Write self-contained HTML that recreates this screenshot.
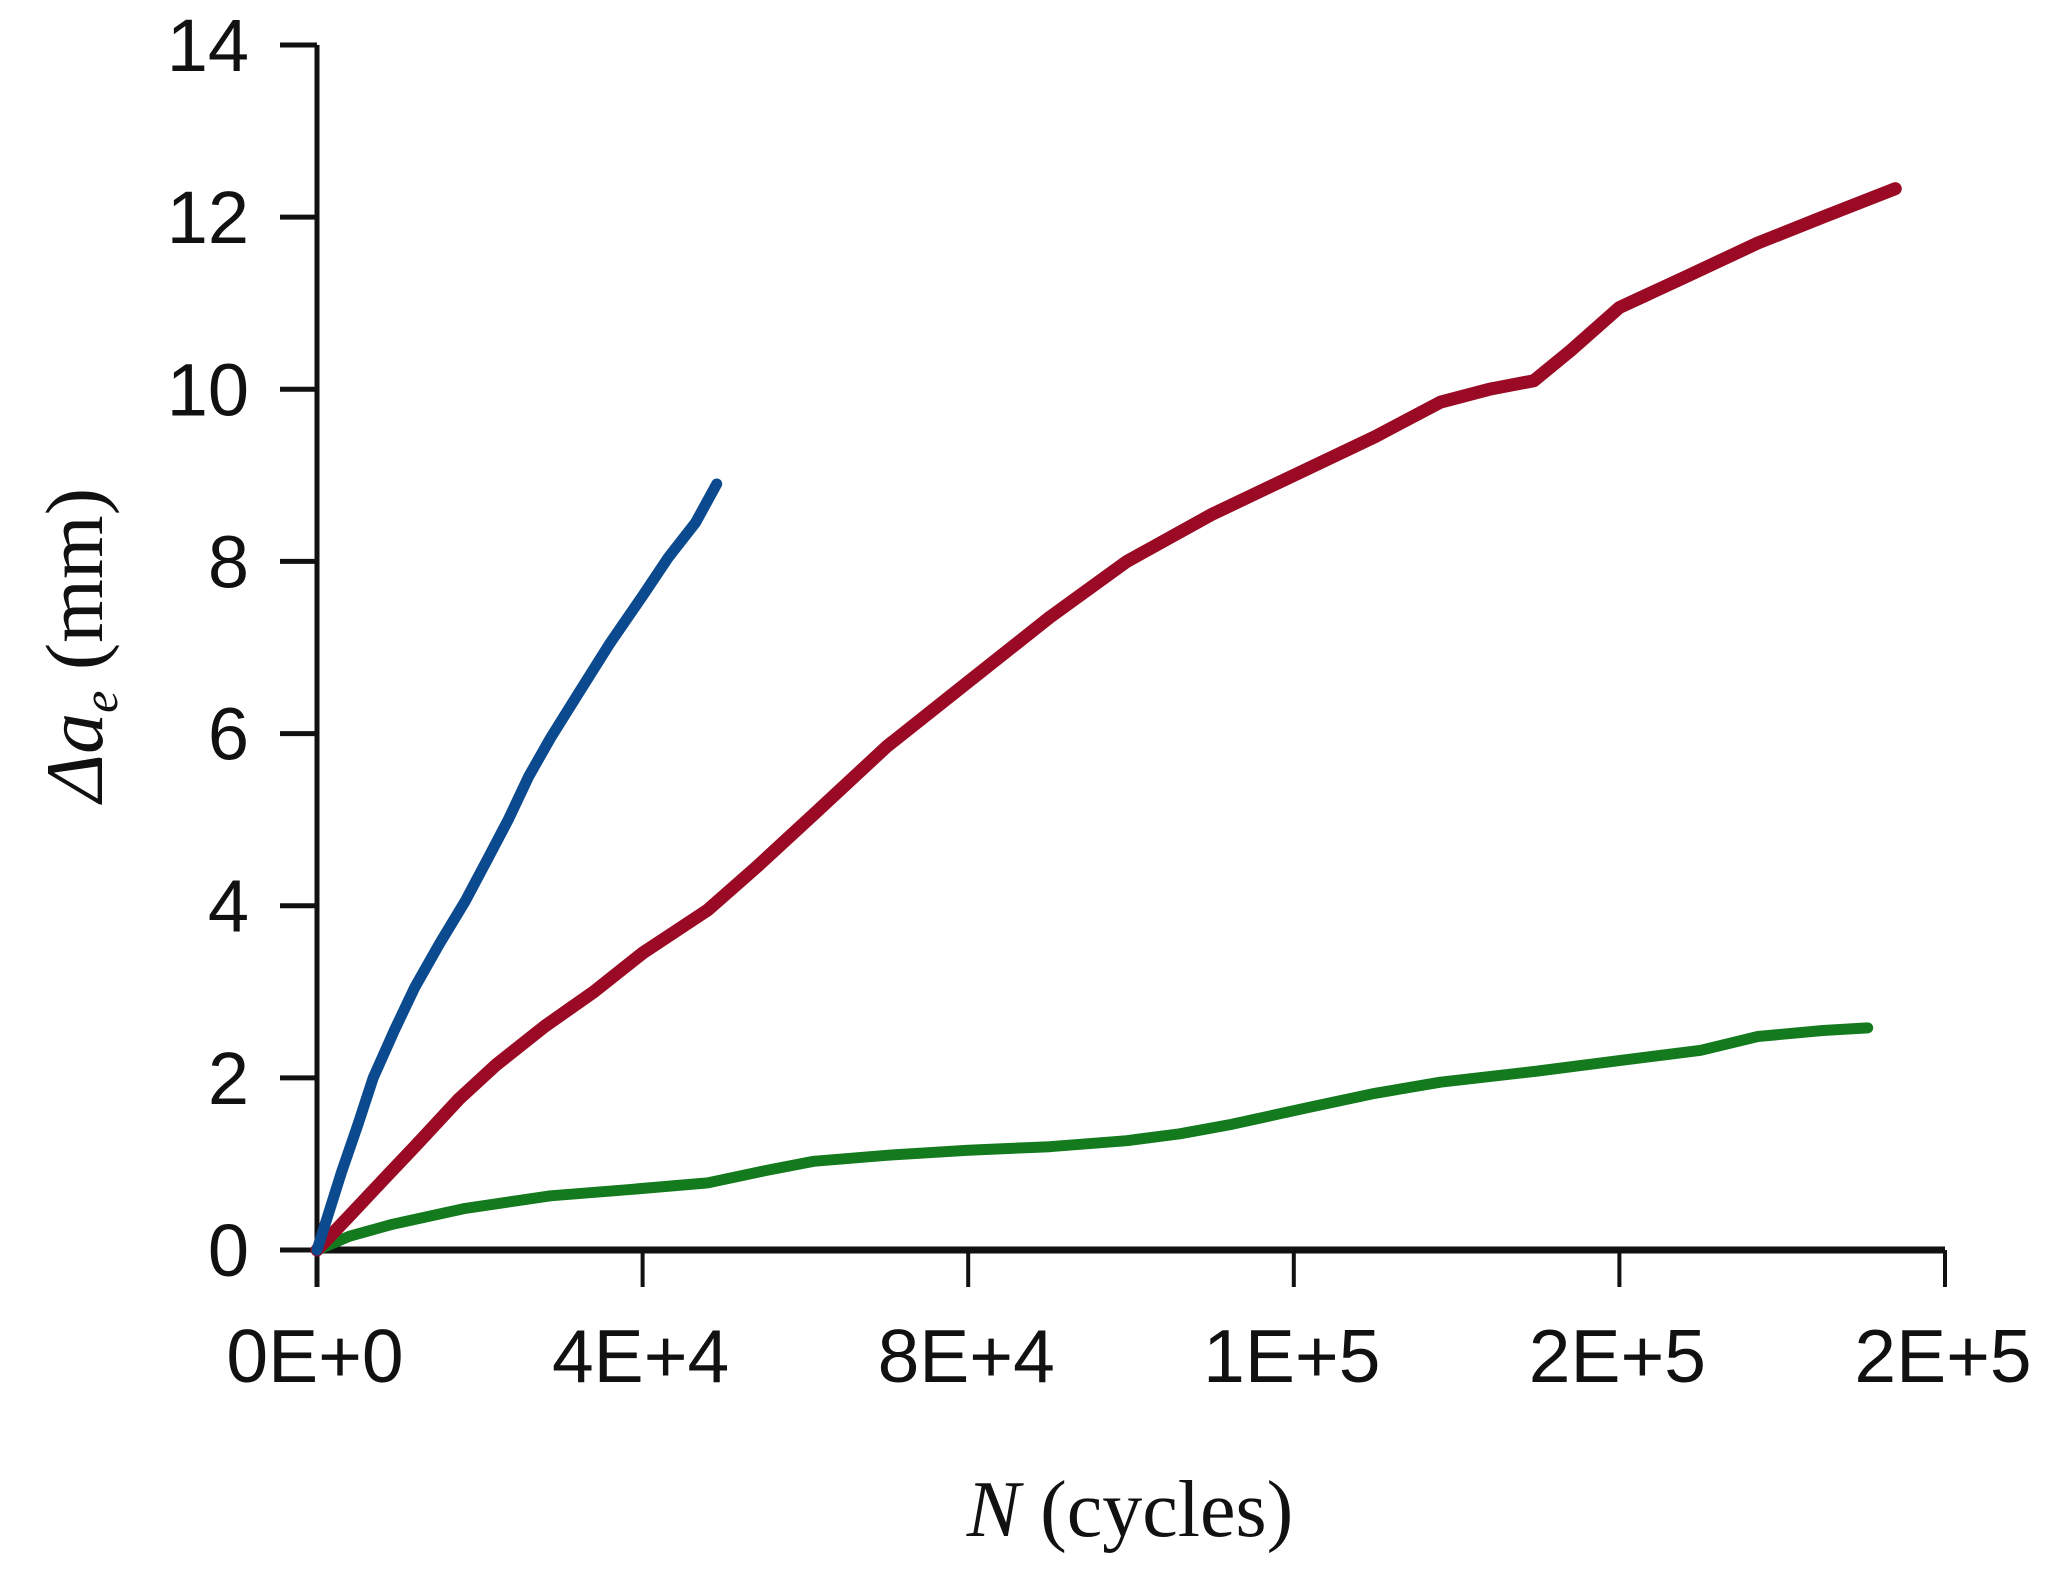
<!DOCTYPE html>
<html><head><meta charset="utf-8"><style>
html,body{margin:0;padding:0;background:#fff}
svg{display:block}
</style></head><body>
<svg id="chart" width="2055" height="1582" viewBox="0 0 2055 1582" xmlns="http://www.w3.org/2000/svg">
<g id="axes"></g>
<g id="series"></g>
<text transform="translate(102,645) rotate(-90)" text-anchor="middle" font-family="Liberation Serif, serif" font-size="82" fill="#111"><tspan font-style="italic">Δa</tspan><tspan font-style="italic" font-size="50" dy="15">e</tspan><tspan dy="-15"> (mm)</tspan></text>
<text x="1130" y="1536" text-anchor="middle" font-family="Liberation Serif, serif" font-size="80" fill="#111"><tspan font-style="italic">N</tspan> (cycles)</text>
</svg>
<script>
const yTicks = [0, 2, 4, 6, 8, 10, 12, 14];
const xTicks = [0, 40000, 80000, 120000, 160000, 200000];
const xTickLabels = ["0E+0", "4E+4", "8E+4", "1E+5", "2E+5", "2E+5"];
const blueN = [0, 1500, 3000, 5000, 6900, 9500, 12000, 15000, 18200, 21000, 23500, 26000, 28700, 32000, 36000, 40000, 43200, 46500, 49100];
const blueA = [0, 0.45, 0.9, 1.45, 2.0, 2.55, 3.05, 3.55, 4.05, 4.55, 5.0, 5.5, 5.95, 6.45, 7.05, 7.6, 8.05, 8.45, 8.9];
const redN = [0, 4000, 8000, 12000, 17400, 22000, 28000, 34000, 40000, 44000, 48000, 54000, 60900, 70000, 80000, 90000, 99500, 110000, 120000, 130000, 138000, 144000, 149500, 154000, 160000, 168000, 177000, 185000, 193900];
const redA = [0, 0.4, 0.8, 1.2, 1.75, 2.15, 2.6, 3.0, 3.45, 3.7, 3.95, 4.45, 5.05, 5.85, 6.6, 7.35, 8.0, 8.55, 9.0, 9.45, 9.85, 10.0, 10.1, 10.45, 10.95, 11.3, 11.7, 12.0, 12.33];
const greenN = [0, 4000, 9300, 18000, 28700, 38000, 48000, 55000, 61000, 70000, 80000, 90000, 99500, 106000, 112400, 122000, 130000, 138000, 150000, 160000, 170000, 177000, 185000, 190500];
const greenA = [0, 0.16, 0.3, 0.48, 0.63, 0.7, 0.78, 0.92, 1.03, 1.1, 1.16, 1.2, 1.27, 1.35, 1.46, 1.66, 1.82, 1.95, 2.08, 2.2, 2.32, 2.48, 2.55, 2.58];

const X0 = 317, X1 = 1945, Y0 = 1250, Y1 = 45;
function xs(v){ return X0 + (v - 0) / 200000 * (X1 - X0); }
function ys(v){ return Y0 - v / 14 * (Y0 - Y1); }
const NS = "http://www.w3.org/2000/svg";
const axes = document.getElementById('axes');
const series = document.getElementById('series');
function mk(tag, attrs, parent){ const e = document.createElementNS(NS, tag); for (const k in attrs) e.setAttribute(k, attrs[k]); parent.appendChild(e); return e; }

const yl = mk('line', {x1:X0, y1:ys(14), x2:X0, y2:Y0+37, stroke:'#111', 'stroke-width':5}, axes);


const xl = mk('line', {x1:X0, y1:Y0, x2:X1, y2:Y0, stroke:'#111', 'stroke-width':7}, axes);



yTicks.forEach(function(t){
  const tk = mk('line', {x1:X0-37, y1:ys(t), x2:X0, y2:ys(t), stroke:'#111', 'stroke-width':5}, axes);
  
  
  const lb = mk('text', {x:249, y:ys(t)+26, 'text-anchor':'end', 'font-family':'Liberation Sans, sans-serif', 'font-size':74, fill:'#111'}, axes);
  lb.textContent = t;
  
  
});
xTicks.forEach(function(t, i){
  const tk = mk('line', {x1:xs(t), y1:Y0, x2:xs(t), y2:Y0+37, stroke:'#111', 'stroke-width':4}, axes);
  
  
  const lb = mk('text', {x:xs(t)-2, y:1382, 'text-anchor':'middle', 'font-family':'Liberation Sans, sans-serif', 'font-size':75, fill:'#111'}, axes);
  lb.textContent = xTickLabels[i];
  
  
});

function drawSeries(nArr, aArr, color, w, name){
  const pts = nArr.map(function(n, i){ return xs(n).toFixed(1) + ',' + ys(aArr[i]).toFixed(1); }).join(' ');
  const pl = mk('polyline', {points:pts, fill:'none', stroke:color, 'stroke-width':w, 'stroke-linejoin':'round', 'stroke-linecap':'round'}, series);
  
  
}
drawSeries(greenN, greenA, '#137a1e', 11, 'green-series-line');
drawSeries(redN, redA, '#9a0a24', 13, 'red-series-line');
drawSeries(blueN, blueA, '#0b4a8e', 11, 'blue-series-line');
</script>
</body></html>
